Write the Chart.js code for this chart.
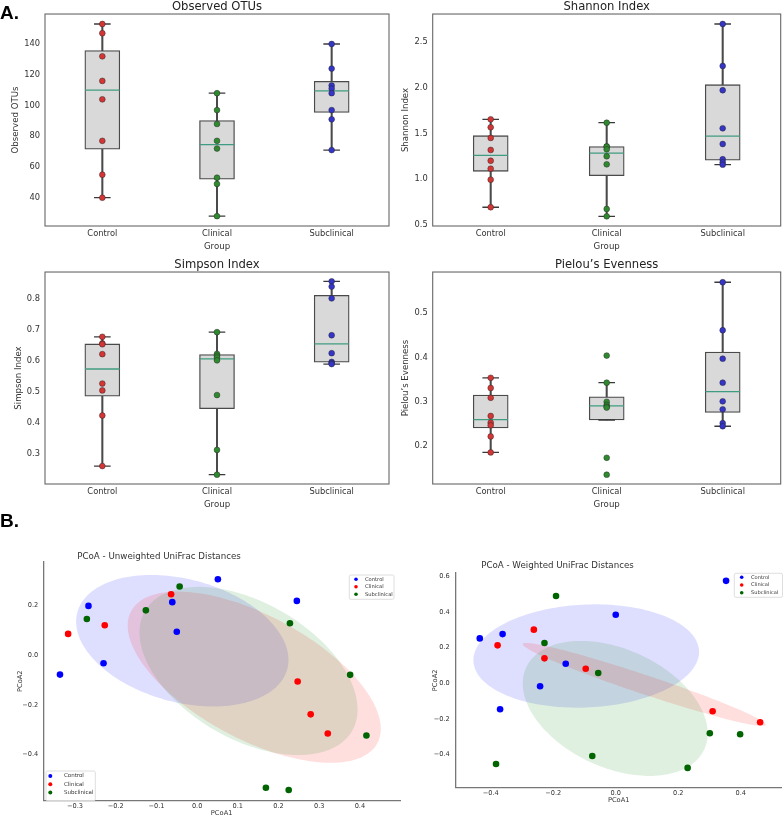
<!DOCTYPE html>
<html>
<head>
<meta charset="utf-8">
<script src="https://cdn.jsdelivr.net/npm/chart.js@4.4.1/dist/chart.umd.min.js"></script>
<style>
html,body{margin:0;padding:0;background:#fff;}
#wrap{position:relative;width:783px;height:818px;overflow:hidden;background:#fff;font-family:"DejaVu Sans",sans-serif;}
canvas{position:absolute;}
.lbl{position:absolute;white-space:nowrap;}
</style>
</head>
<body>
<div id="wrap">
<canvas id="c1" width="392" height="258" style="left:0px;top:0px"></canvas>
<canvas id="c2" width="391" height="258" style="left:392px;top:0px"></canvas>
<canvas id="c3" width="392" height="258" style="left:0px;top:258px"></canvas>
<canvas id="c4" width="391" height="258" style="left:392px;top:258px"></canvas>
<canvas id="c5" width="402" height="273" style="left:0px;top:545px"></canvas>
<canvas id="c6" width="383" height="273" style="left:400px;top:545px"></canvas>
<div class="lbl" style="left:0px;top:3px;font-family:'Liberation Sans',Arial,sans-serif;font-weight:bold;font-size:19px;line-height:19px;color:#000">A.</div>
<div class="lbl" style="left:0px;top:511px;font-family:'Liberation Sans',Arial,sans-serif;font-weight:bold;font-size:19px;line-height:19px;color:#000">B.</div>
<div class="lbl" style="left:159px;top:551px;transform:translateX(-50%);font-size:8.7px;line-height:10px;color:#333">PCoA - Unweighted UniFrac Distances</div>
<div class="lbl" style="left:557.5px;top:560px;transform:translateX(-50%);font-size:8.7px;line-height:10px;color:#333">PCoA - Weighted UniFrac Distances</div>
</div>
<script>
// ---------------- DATA ----------------
const groups = ['Control', 'Clinical', 'Subclinical'];

// Observed OTUs
const otuControl     = [153, 147, 132, 116, 104, 77, 55, 40];
const otuClinical    = [108, 97, 88, 77, 72, 53, 49, 28];
const otuSubclinical = [140, 124, 113, 111, 108, 97, 91, 71];
const otuQ1      = [71.5, 52, 95.5];
const otuMedian  = [110, 74.5, 109.5];
const otuQ3      = [135.75, 90.25, 115.75];
const otuWhisLo  = [40, 28, 71];
const otuWhisHi  = [153, 108, 140];
const otuTicks   = [40, 60, 80, 100, 120, 140];

// Shannon Index
const shControl     = [1.656, 1.569, 1.452, 1.321, 1.203, 1.116, 0.996, 0.694];
const shClinical    = [1.619, 1.36, 1.357, 1.328, 1.252, 1.164, 0.675, 0.595];
const shSubclinical = [2.699, 2.24, 1.974, 1.558, 1.386, 1.219, 1.186, 1.16];
const shQ1      = [1.087, 1.039, 1.208];
const shMedian  = [1.262, 1.286, 1.472];
const shQ3      = [1.477, 1.358, 2.035];
const shWhisLo  = [0.694, 0.595, 1.16];
const shWhisHi  = [1.656, 1.619, 2.699];
const shTicks   = [0.5, 1.0, 1.5, 2.0, 2.5];

// Simpson Index
const siControl     = [0.678, 0.657, 0.654, 0.622, 0.527, 0.505, 0.424, 0.261];
const siClinical    = [0.693, 0.623, 0.617, 0.611, 0.602, 0.49, 0.313, 0.233];
const siSubclinical = [0.857, 0.84, 0.802, 0.683, 0.625, 0.597, 0.593, 0.59];
const siQ1      = [0.486, 0.446, 0.596];
const siMedian  = [0.574, 0.607, 0.655];
const siQ3      = [0.655, 0.621, 0.812];
const siWhisLo  = [0.261, 0.233, 0.59];
const siWhisHi  = [0.678, 0.693, 0.857];
const siTicks   = [0.3, 0.4, 0.5, 0.6, 0.7, 0.8];

// Pielou's Evenness
const peControl     = [0.354, 0.331, 0.309, 0.268, 0.253, 0.247, 0.222, 0.186];
const peClinical    = [0.404, 0.343, 0.3, 0.293, 0.289, 0.287, 0.174, 0.136];
const peSubclinical = [0.569, 0.461, 0.397, 0.343, 0.301, 0.283, 0.252, 0.245];
const peQ1      = [0.241, 0.259, 0.276];
const peMedian  = [0.26, 0.291, 0.323];
const peQ3      = [0.315, 0.311, 0.412];
const peWhisLo  = [0.186, 0.259, 0.245];
const peWhisHi  = [0.354, 0.343, 0.569];
const peTicks   = [0.2, 0.3, 0.4, 0.5];

// PCoA - Unweighted UniFrac
const uwControlX     = [0.051, 0.245, -0.267, -0.061, -0.05, -0.23, -0.337];
const uwControlY     = [0.306, 0.219, 0.199, 0.214, 0.095, -0.032, -0.078];
const uwClinicalX    = [-0.064, -0.227, -0.317, 0.247, 0.279, 0.321];
const uwClinicalY    = [0.246, 0.121, 0.086, -0.106, -0.238, -0.315];
const uwSubclinicalX = [-0.043, -0.126, -0.271, 0.228, 0.376, 0.416, 0.169, 0.225];
const uwSubclinicalY = [0.277, 0.181, 0.146, 0.129, -0.079, -0.323, -0.534, -0.543];
// ellipse: [centerX, centerY, halfRangeX, halfRangeY, yOffsetAtRightmostPoint]
const uwEllControl     = [-0.0364, 0.0585, 0.261, 0.265, -0.0772];
const uwEllClinical    = [0.1403, -0.0883, 0.311, 0.345, -0.208];
const uwEllSubclinical = [0.1263, -0.0633, 0.268, 0.339, -0.155];
const uwTicksX = [-0.3, -0.2, -0.1, 0.0, 0.1, 0.2, 0.3, 0.4];
const uwTicksY = [-0.4, -0.2, 0.0, 0.2];

// PCoA - Weighted UniFrac
const wControlX     = [0.353, 0.0, -0.435, -0.362, -0.16, -0.242, -0.37];
const wControlY     = [0.575, 0.385, 0.252, 0.276, 0.11, -0.017, -0.146];
const wClinicalX    = [-0.262, -0.378, -0.228, -0.096, 0.31, 0.462];
const wClinicalY    = [0.301, 0.213, 0.14, 0.082, -0.157, -0.219];
const wSubclinicalX = [-0.191, -0.228, -0.056, 0.301, 0.398, -0.075, 0.23, -0.383];
const wSubclinicalY = [0.49, 0.226, 0.058, -0.28, -0.286, -0.408, -0.475, -0.453];
const wEllControl     = [-0.0944, 0.153, 0.361, 0.29, 0.0233];
const wEllClinical    = [0.0912, -0.0067, 0.389, 0.233, -0.226];
const wEllSubclinical = [-0.0016, -0.141, 0.296, 0.379, -0.140];
const wTicksX = [-0.4, -0.2, 0.0, 0.2, 0.4];
const wTicksY = [-0.4, -0.2, 0.0, 0.2, 0.4, 0.6];

// ---------------- RENDERING ----------------
const FONT = '"DejaVu Sans", sans-serif';
const TXT = '#333';

function noPad(s) {
  s.paddingLeft = 0; s.paddingRight = 0; s.paddingTop = 0; s.paddingBottom = 0;
  s.getPadding = () => ({left: 0, top: 0, right: 0, bottom: 0});
}

const framePlugin = {
  id: 'frame',
  afterDraw(chart) {
    const {ctx, chartArea: a} = chart;
    ctx.save();
    ctx.strokeStyle = '#666';
    ctx.lineWidth = 1.1;
    ctx.strokeRect(a.left, a.top, a.right - a.left, a.bottom - a.top);
    ctx.restore();
  }
};

const ellipsePlugin = {
  id: 'ellipses',
  beforeDatasetsDraw(chart, args, opts) {
    const {ctx, chartArea: a, scales} = chart;
    const xs = scales.x, ys = scales.y;
    ctx.save();
    ctx.beginPath();
    ctx.rect(a.left, a.top, a.right - a.left, a.bottom - a.top);
    ctx.clip();
    (opts.items || []).forEach(e => {
      const [cx, cy, rx, ry, c] = e.p;
      const d = Math.sqrt(Math.max(ry * ry - c * c, 0));
      ctx.beginPath();
      const N = 180;
      for (let i = 0; i <= N; i++) {
        const t = i / N * 2 * Math.PI;
        const px = xs.getPixelForValue(cx + rx * Math.cos(t));
        const py = ys.getPixelForValue(cy + c * Math.cos(t) + d * Math.sin(t));
        if (i === 0) ctx.moveTo(px, py); else ctx.lineTo(px, py);
      }
      ctx.closePath();
      ctx.fillStyle = e.color;
      ctx.fill();
    });
    ctx.restore();
  }
};

const miniLegendPlugin = {
  id: 'miniLegend',
  afterDatasetsDraw(chart, args, opts) {
    const ctx = chart.ctx;
    (opts.boxes || []).forEach(b => {
      ctx.save();
      const r = 1.5;
      ctx.beginPath();
      ctx.moveTo(b.left + r, b.top);
      ctx.lineTo(b.left + b.w - r, b.top);
      ctx.quadraticCurveTo(b.left + b.w, b.top, b.left + b.w, b.top + r);
      ctx.lineTo(b.left + b.w, b.top + b.h - r);
      ctx.quadraticCurveTo(b.left + b.w, b.top + b.h, b.left + b.w - r, b.top + b.h);
      ctx.lineTo(b.left + r, b.top + b.h);
      ctx.quadraticCurveTo(b.left, b.top + b.h, b.left, b.top + b.h - r);
      ctx.lineTo(b.left, b.top + r);
      ctx.quadraticCurveTo(b.left, b.top, b.left + r, b.top);
      ctx.closePath();
      ctx.fillStyle = 'rgba(255,255,255,0.85)';
      ctx.fill();
      ctx.strokeStyle = '#d6d6d6';
      ctx.lineWidth = 0.8;
      ctx.stroke();
      chart.data.datasets.forEach((ds, i) => {
        const yy = b.rowY + i * b.gap;
        ctx.beginPath();
        ctx.arc(b.markerX, yy, b.r, 0, 2 * Math.PI);
        ctx.fillStyle = ds.backgroundColor;
        ctx.fill();
        ctx.fillStyle = TXT;
        ctx.font = b.font + 'px "DejaVu Sans"';
        ctx.textBaseline = 'middle';
        ctx.textAlign = 'left';
        ctx.fillText(ds.label, b.textX, yy);
      });
      ctx.restore();
    });
  }
};

const ptColors = ['#d43636', '#2f8a2f', '#3535c8'];

function boxChart(id, title, ylabel, yMin, yMax, yTicks, tickFmt, pts, q1, med, q3, wLo, wHi, lay) {
  const datasets = [];
  groups.forEach((g, i) => {
    datasets.push({
      type: 'line', label: g, order: 0, showLine: false,
      data: pts[i].map(v => ({x: g, y: v})),
      pointRadius: 2.9, pointBackgroundColor: ptColors[i],
      pointBorderColor: 'rgba(35,35,35,0.65)', pointBorderWidth: 0.7
    });
  });
  datasets.push({
    type: 'line', label: 'median', order: 1, showLine: false,
    data: groups.map((g, i) => ({x: g, y: med[i]})),
    pointStyle: 'line', pointRadius: 17.3,
    pointBorderColor: '#3f9c80', pointBorderWidth: 1.3
  });
  datasets.push({
    type: 'line', label: 'caps', order: 2, showLine: false,
    data: groups.map((g, i) => ({x: g, y: wLo[i]})).concat(groups.map((g, i) => ({x: g, y: wHi[i]}))),
    pointStyle: 'line', pointRadius: 8.3,
    pointBorderColor: '#3a3a3a', pointBorderWidth: 1.3
  });
  datasets.push({
    type: 'bar', label: 'box', order: 3, grouped: false,
    data: groups.map((g, i) => [q1[i], q3[i]]),
    backgroundColor: '#d9d9d9', borderColor: '#4a4a4a', borderWidth: 1.3,
    borderSkipped: false, barThickness: 35
  });
  datasets.push({
    type: 'bar', label: 'whisker', order: 4, grouped: false,
    data: groups.map((g, i) => [wLo[i], wHi[i]]),
    backgroundColor: '#4a4a4a', borderWidth: 0, barThickness: 1.4
  });

  return new Chart(document.getElementById(id), {
    type: 'bar',
    data: {labels: groups, datasets},
    plugins: [framePlugin],
    options: {
      responsive: false, animation: false, devicePixelRatio: 1, events: [],
      layout: {autoPadding: false, padding: {left: 0, right: lay.rightPad, top: 0, bottom: 0}},
      plugins: {
        legend: {display: false}, tooltip: {enabled: false},
        title: {display: true, text: title, fullSize: false, color: '#222',
                font: {family: FONT, size: 11.6, weight: 'normal', lineHeight: 1.2},
                padding: {top: 0, bottom: 0.1}}
      },
      scales: {
        x: {
          type: 'category', offset: true,
          grid: {display: false, drawTicks: false}, border: {display: false},
          ticks: {color: TXT, font: {family: FONT, size: 8.3}, padding: 3, maxRotation: 0, autoSkip: false},
          title: {display: true, text: 'Group', color: TXT, font: {family: FONT, size: 8.6},
                  padding: {top: 0, bottom: 6.2}},
          afterFit(s) { s.height = 32; noPad(s); }
        },
        y: {
          type: 'linear', min: yMin, max: yMax,
          grid: {display: false, drawTicks: false}, border: {display: false},
          ticks: {color: TXT, font: {family: FONT, size: 8.3}, padding: 5, callback: v => tickFmt(v)},
          afterBuildTicks(s) { s.ticks = yTicks.map(v => ({value: v})); },
          title: {display: true, text: ylabel, color: TXT, font: {family: FONT, size: 8.6},
                  padding: {top: lay.yTitlePad, bottom: 0}},
          afterFit(s) { s.width = lay.yWidth; noPad(s); }
        }
      }
    }
  });
}

const fmtInt = v => String(Math.round(v));
const fmt1 = v => v.toFixed(1);

boxChart('c1', 'Observed OTUs', 'Observed OTUs', 21.6, 159.5, otuTicks, fmtInt,
  [otuControl, otuClinical, otuSubclinical], otuQ1, otuMedian, otuQ3, otuWhisLo, otuWhisHi,
  {yWidth: 45, rightPad: 3, yTitlePad: 10.5});
boxChart('c2', 'Shannon Index', 'Shannon Index', 0.489, 2.808, shTicks, fmt1,
  [shControl, shClinical, shSubclinical], shQ1, shMedian, shQ3, shWhisLo, shWhisHi,
  {yWidth: 40.7, rightPad: 2.3, yTitlePad: 8.5});
boxChart('c3', 'Simpson Index', 'Simpson Index', 0.203, 0.887, siTicks, fmt1,
  [siControl, siClinical, siSubclinical], siQ1, siMedian, siQ3, siWhisLo, siWhisHi,
  {yWidth: 45, rightPad: 3, yTitlePad: 13.8});
boxChart('c4', 'Pielou\u2019s Evenness', 'Pielou\u2019s Evenness', 0.115, 0.592, peTicks, fmt1,
  [peControl, peClinical, peSubclinical], peQ1, peMedian, peQ3, peWhisLo, peWhisHi,
  {yWidth: 40.7, rightPad: 2.3, yTitlePad: 8.5});

const fmtSigned = v => (v < -1e-9 ? '\u2212' : '') + Math.abs(v).toFixed(1);
const zip = (xs, ys) => xs.map((x, i) => ({x, y: ys[i]}));
const pcoaColors = ['#0000ff', '#ff0000', '#006400'];
const ellColors = ['rgba(0,0,255,0.13)', 'rgba(255,0,0,0.13)', 'rgba(0,128,0,0.12)'];

function pcoaChart(id, ptsX, ptsY, ells, xr, yr, tx, ty, lay, legendBoxes) {
  const datasets = groups.map((g, i) => ({
    label: g, data: zip(ptsX[i], ptsY[i]),
    backgroundColor: pcoaColors[i], borderColor: pcoaColors[i],
    pointRadius: 3.3, pointBorderWidth: 0
  }));
  return new Chart(document.getElementById(id), {
    type: 'scatter',
    data: {datasets},
    plugins: [ellipsePlugin, miniLegendPlugin],
    options: {
      responsive: false, animation: false, devicePixelRatio: 1, events: [],
      layout: {autoPadding: false, padding: {left: 0, right: lay.rightPad, top: lay.topPad, bottom: 0}},
      plugins: {
        legend: {display: false}, tooltip: {enabled: false},
        ellipses: {items: ells.map((p, i) => ({p, color: ellColors[i]}))},
        miniLegend: {boxes: legendBoxes}
      },
      scales: {
        x: {
          type: 'linear', min: xr[0], max: xr[1],
          grid: {display: false, drawTicks: false},
          border: {display: true, color: '#777', width: 1.3},
          ticks: {color: TXT, font: {family: FONT, size: 6.6}, padding: lay.xTickPad, maxRotation: 0, autoSkip: false, callback: v => fmtSigned(v)},
          afterBuildTicks(s) { s.ticks = tx.map(v => ({value: v})); },
          title: {display: true, text: 'PCoA1', color: TXT, font: {family: FONT, size: 6.7},
                  padding: {top: 0, bottom: lay.xTitlePad}},
          afterFit(s) { s.height = lay.xHeight; noPad(s); }
        },
        y: {
          type: 'linear', min: yr[0], max: yr[1],
          grid: {display: false, drawTicks: false},
          border: {display: true, color: '#777', width: 1.3},
          ticks: {color: TXT, font: {family: FONT, size: 6.6}, padding: lay.yTickPad, callback: v => fmtSigned(v)},
          afterBuildTicks(s) { s.ticks = ty.map(v => ({value: v})); },
          title: {display: true, text: 'PCoA2', color: TXT, font: {family: FONT, size: 6.7},
                  padding: {top: lay.yTitlePad, bottom: 0}},
          afterFit(s) { s.width = lay.yWidth; noPad(s); }
        }
      }
    }
  });
}

pcoaChart('c5',
  [uwControlX, uwClinicalX, uwSubclinicalX], [uwControlY, uwClinicalY, uwSubclinicalY],
  [uwEllControl, uwEllClinical, uwEllSubclinical],
  [-0.378, 0.4985], [-0.586, 0.377], uwTicksX, uwTicksY,
  {rightPad: 2, topPad: 16.7, xHeight: 17.3, yWidth: 43.3, xTickPad: 1.5, yTickPad: 5, xTitlePad: 0.7, yTitlePad: 16.7},
  [
    {left: 349.3, top: 30, w: 44.7, h: 24.3, markerX: 356, rowY: 34.3, gap: 7.5, textX: 365, font: 5.2, r: 1.8},
    {left: 46, top: 226, w: 49.3, h: 29.7, markerX: 50.3, rowY: 231, gap: 8.2, textX: 64, font: 5.5, r: 2}
  ]);

pcoaChart('c6',
  [wControlX, wClinicalX, wSubclinicalX], [wControlY, wClinicalY, wSubclinicalY],
  [wEllControl, wEllClinical, wEllSubclinical],
  [-0.512, 0.531], [-0.586, 0.619], wTicksX, wTicksY,
  {rightPad: 1.3, topPad: 28, xHeight: 30.3, yWidth: 55.7, xTickPad: 1.5, yTickPad: 6, xTitlePad: 14, yTitlePad: 31},
  [
    {left: 334.3, top: 28.3, w: 48.2, h: 24, markerX: 341.7, rowY: 32.3, gap: 7.7, textX: 351, font: 5.1, r: 1.8}
  ]);
</script>
</body>
</html>
